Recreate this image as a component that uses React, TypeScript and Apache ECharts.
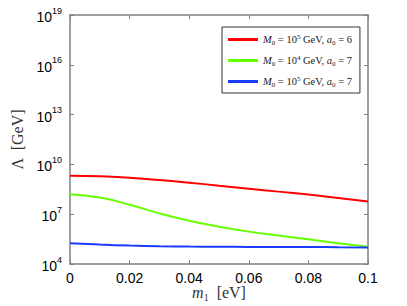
import React, { useEffect, useRef } from "react";
import * as echarts from "echarts";

const m1: number[] = [0, 0.01, 0.02, 0.03, 0.04, 0.05, 0.06, 0.07, 0.08, 0.09, 0.1];
// Λ [GeV] (log10 estimates converted)
const redExp: number[] = [9.32, 9.28, 9.2, 9.06, 8.9, 8.72, 8.54, 8.36, 8.18, 7.98, 7.76];
const greenExp: number[] = [8.2, 8.0, 7.57, 7.05, 6.61, 6.25, 5.95, 5.71, 5.49, 5.25, 5.04];
const blueExp: number[] = [5.25, 5.17, 5.11, 5.07, 5.05, 5.04, 5.03, 5.02, 5.02, 5.01, 5.0];
const redVals = redExp.map((e) => Math.pow(10, e));
const greenVals = greenExp.map((e) => Math.pow(10, e));
const blueVals = blueExp.map((e) => Math.pow(10, e));

const seriesNames = ["s1", "s2", "s3"];
const legendLabels: Record<string, [string, string]> = {
  s1: ["5", "6"],
  s2: ["4", "7"],
  s3: ["5", "7"],
};

const serif = "'Liberation Serif', 'DejaVu Serif', serif";
const sans = "'Liberation Sans', Arial, sans-serif";

export default function App() {
  const ref = useRef<HTMLDivElement>(null);
  useEffect(() => {
    if (!ref.current) return;
    const chart = echarts.init(ref.current, undefined, { renderer: "svg" });
    const axisColor = "#808080";
    const yLabel = (v: number) => `{b|10}{s|${Math.round(Math.log10(v))}}`;
    const yRich = {
      b: { fontSize: 14, fontFamily: sans, color: "#000", lineHeight: 18, verticalAlign: "bottom" },
      s: { fontSize: 9, fontFamily: sans, color: "#000", lineHeight: 18, verticalAlign: "top" },
    };
    const mk = (name: string, data: number[], color: string) => ({
      name,
      type: "line",
      data: m1.map((x, i) => [x, data[i]]),
      showSymbol: false,
      smooth: true,
      lineStyle: { color, width: 2 },
      itemStyle: { color },
      xAxisIndex: 0,
      yAxisIndex: 0,
    });
    chart.setOption({
      animation: false,
      backgroundColor: "#fff",
      grid: { left: 70, right: 39, top: 15, bottom: 42, show: false, containLabel: false, outerBoundsMode: "none" },
      legend: {
        orient: "vertical",
        left: 222,
        top: 27,
        padding: [6, 8, 5, 6],
        itemGap: 8,
        itemWidth: 30,
        itemHeight: 3,
        icon: "rect",
        backgroundColor: "#fff",
        borderColor: "#333",
        borderWidth: 1,
        borderRadius: 0,
        data: seriesNames,
        formatter: (n: string) => {
          const [p, a] = legendLabels[n];
          return `{i|M}{sub|0}{n| = 10}{sup|${p}}{n| GeV, }{i|a}{sub|0}{n| = ${a}}`;
        },
        textStyle: {
          rich: {
            i: { fontFamily: serif, fontStyle: "italic", fontSize: 10.5, lineHeight: 13, color: "#222", verticalAlign: "middle" },
            n: { fontFamily: serif, fontSize: 10.5, lineHeight: 13, color: "#222", verticalAlign: "middle" },
            sub: { fontFamily: serif, fontSize: 7, lineHeight: 13, color: "#222", verticalAlign: "bottom" },
            sup: { fontFamily: serif, fontSize: 7, lineHeight: 13, color: "#222", verticalAlign: "top" },
          },
        },
      },
      xAxis: [
        {
          type: "value",
          min: 0,
          max: 0.1,
          interval: 0.02,
          position: "bottom",
          axisLine: { show: true, onZero: false, lineStyle: { color: axisColor, width: 1.5 } },
          axisTick: { show: true, inside: true, length: 4, lineStyle: { color: axisColor } },
          splitLine: { show: false },
          axisLabel: {
            fontSize: 14,
            fontFamily: sans,
            color: "#000",
            margin: 7,
            formatter: (v: number) => (v === 0 ? "0" : String(+v.toFixed(2))),
          },
          name: "{i|m}{sub|1}{n|  [eV]}",
          nameLocation: "middle",
          nameGap: 18,
          nameMoveOverlap: false,
          nameTextStyle: {
            rich: {
              i: { fontFamily: serif, fontStyle: "italic", fontSize: 16, lineHeight: 20, color: "#333", verticalAlign: "middle" },
              n: { fontFamily: serif, fontSize: 16, lineHeight: 20, color: "#333", verticalAlign: "middle" },
              sub: { fontFamily: serif, fontSize: 10, lineHeight: 20, color: "#333", verticalAlign: "bottom" },
            },
          },
        },
        {
          type: "value",
          min: 0,
          max: 0.1,
          interval: 0.02,
          position: "top",
          axisLine: { show: true, onZero: false, lineStyle: { color: axisColor, width: 1.5 } },
          axisTick: { show: true, inside: true, length: 4, lineStyle: { color: axisColor } },
          splitLine: { show: false },
          axisLabel: { show: false },
        },
      ],
      yAxis: [
        {
          type: "log",
          logBase: 10,
          min: 1e4,
          max: 1e19,
          interval: 3,
          position: "left",
          axisLine: { show: true, onZero: false, lineStyle: { color: axisColor, width: 1.5 } },
          axisTick: { show: true, inside: true, length: 4, lineStyle: { color: axisColor } },
          minorTick: { show: false },
          splitLine: { show: false },
          axisLabel: { formatter: yLabel, rich: yRich, margin: 8 },
          name: "Λ  [GeV]",
          nameLocation: "middle",
          nameGap: 45,
          nameRotate: 90,
          nameMoveOverlap: false,
          nameTextStyle: { fontFamily: serif, fontSize: 16, color: "#333" },
        },
        {
          type: "log",
          logBase: 10,
          min: 1e4,
          max: 1e19,
          interval: 3,
          position: "right",
          axisLine: { show: true, onZero: false, lineStyle: { color: axisColor, width: 1.5 } },
          axisTick: { show: true, inside: true, length: 4, lineStyle: { color: axisColor } },
          splitLine: { show: false },
          axisLabel: { show: false },
        },
      ],
      series: [
        mk("s1", redVals, "#ff0000"),
        mk("s2", greenVals, "#66ff00"),
        mk("s3", blueVals, "#1a3cff"),
      ],
    });
    return () => chart.dispose();
  }, []);
  return (
    <div
      ref={ref}
      style={{ position: "fixed", left: 0, top: 0, width: 407, height: 306 }}
    />
  );
}
